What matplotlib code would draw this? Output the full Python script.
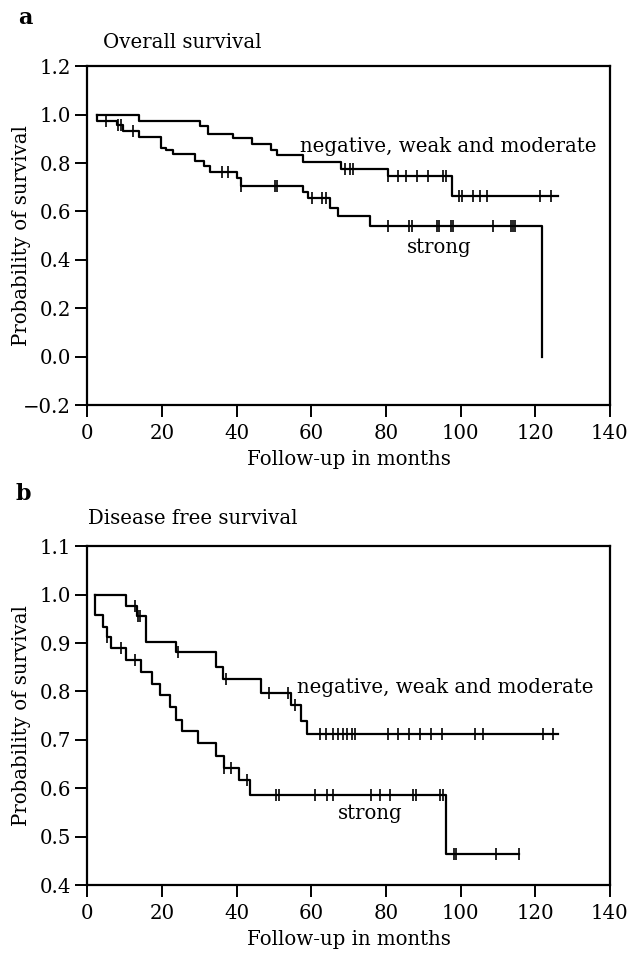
import numpy as np
import matplotlib.pyplot as plt

# Overall survival (panel a): step times, survival after each step, censored times
os_weak_t = [2.7, 14.0, 30.2, 32.3, 39.0, 44.2, 49.2, 50.9, 57.7, 67.9, 80.5, 97.6, 126.0]
os_weak_s = [1.0, 0.972, 0.952, 0.921, 0.903, 0.880, 0.855, 0.834, 0.804, 0.776, 0.747, 0.665, 0.665]
os_weak_cens = [69.0, 70.3, 71.2, 80.5, 83.3, 85.5, 88.3, 91.3, 95.3, 96.0, 99.6, 100.4,
                103.3, 105.2, 107.0, 121.2, 124.1]

os_strong_t = [2.7, 2.7, 7.9, 9.7, 14.0, 19.9, 21.0, 23.1, 28.8, 31.4, 32.9, 40.2, 41.2,
               57.7, 59.2, 65.0, 67.1, 75.7, 121.7]
os_strong_s = [1.0, 0.975, 0.956, 0.934, 0.906, 0.862, 0.855, 0.837, 0.809, 0.786, 0.762,
               0.737, 0.707, 0.682, 0.654, 0.613, 0.582, 0.541, 0.0]
os_strong_cens = [5.0, 8.3, 9.2, 12.2, 36.0, 37.8, 41.2, 50.3, 50.9, 60.1, 63.0, 64.0, 80.5,
                  86.3, 86.9, 93.6, 94.2, 97.4, 98.1, 108.6, 113.5, 114.1, 114.7]

# Disease free survival (panel b)
dfs_weak_t = [2.2, 10.3, 13.3, 15.7, 23.7, 34.6, 36.3, 46.5, 54.5, 57.4, 58.8, 126.1]
dfs_weak_s = [1.0, 0.977, 0.955, 0.902, 0.881, 0.850, 0.826, 0.797, 0.773, 0.739, 0.713, 0.713]
dfs_weak_cens = [12.8, 13.5, 14.2, 24.4, 37.3, 48.7, 53.8, 55.6, 62.3, 64.1, 65.9, 67.2, 68.6,
                 69.5, 70.8, 71.7, 80.6, 83.3, 86.2, 89.1, 92.0, 94.9, 103.8, 105.9, 122.1, 124.8]

dfs_strong_t = [2.2, 2.2, 4.3, 5.2, 6.3, 10.3, 14.4, 17.4, 19.5, 22.1, 23.7, 25.3, 29.6, 34.6,
                36.6, 40.7, 43.7, 96.2, 115.6]
dfs_strong_s = [1.0, 0.958, 0.933, 0.913, 0.890, 0.864, 0.840, 0.816, 0.792, 0.768, 0.742,
                0.718, 0.693, 0.666, 0.642, 0.618, 0.586, 0.465, 0.465]
dfs_strong_cens = [5.2, 9.2, 12.8, 36.6, 38.6, 42.7, 50.5, 51.3, 61.0, 64.3, 65.9, 76.1, 78.4,
                   81.0, 87.2, 88.2, 94.4, 95.2, 98.2, 98.9, 109.5, 115.6]

plt.rcParams['font.family'] = ['DejaVu Serif']
plt.rcParams['font.size'] = 14.2

fig = plt.figure(figsize=(6.36, 9.6), dpi=100)
ax_a = fig.add_axes([0.137, 0.578, 0.822, 0.353])
ax_b = fig.add_axes([0.137, 0.078, 0.822, 0.353])


def km_curve(ax, t, s, cens):
    ax.step(t, s, where='post', color='black', lw=1.6)
    t = np.array(t)
    s = np.array(s)
    idx = np.searchsorted(t, cens, side='right') - 1
    ax.plot(cens, s[idx], linestyle='none', marker='|', ms=9, mew=1.2, color='black')


km_curve(ax_a, os_weak_t, os_weak_s, os_weak_cens)
km_curve(ax_a, os_strong_t, os_strong_s, os_strong_cens)
km_curve(ax_b, dfs_weak_t, dfs_weak_s, dfs_weak_cens)
km_curve(ax_b, dfs_strong_t, dfs_strong_s, dfs_strong_cens)

ax_a.set_ylim(-0.2, 1.2)
ax_a.set_yticks(np.arange(-0.2, 1.21, 0.2))
ax_b.set_ylim(0.4, 1.1)
ax_b.set_yticks(np.arange(0.4, 1.11, 0.1))

fmt = plt.FuncFormatter(lambda v, p: f'{v:.1f}'.replace('-', '\u2212'))
for ax in (ax_a, ax_b):
    ax.set_xlim(0, 140)
    ax.set_xticks(range(0, 141, 20))
    ax.yaxis.set_major_formatter(fmt)
    ax.tick_params(direction='out', length=8.5, width=1.4)
    ax.tick_params(axis='x', pad=5)
    ax.tick_params(axis='y', pad=3)
    for sp in ax.spines.values():
        sp.set_linewidth(1.6)
    ax.set_xlabel('Follow-up in months', labelpad=5)
    ax.set_ylabel('Probability of survival')
    ax.yaxis.set_label_coords(-0.108, 0.5)

ax_a.text(96.6, 0.868, 'negative, weak and moderate', ha='center', va='center')
ax_a.text(94.4, 0.453, 'strong', ha='center', va='center')
ax_b.text(95.9, 0.809, 'negative, weak and moderate', ha='center', va='center')
ax_b.text(75.9, 0.548, 'strong', ha='center', va='center')

fig.text(18 / 636, 1 - 18 / 960, 'a', fontweight='bold', fontsize=16, va='center')
fig.text(103 / 636, 1 - 42 / 960, 'Overall survival', va='center')
fig.text(16 / 636, 1 - 494 / 960, 'b', fontweight='bold', fontsize=16, va='center')
fig.text(88 / 636, 1 - 518 / 960, 'Disease free survival', va='center')

fig.savefig('out.png', dpi=100)
